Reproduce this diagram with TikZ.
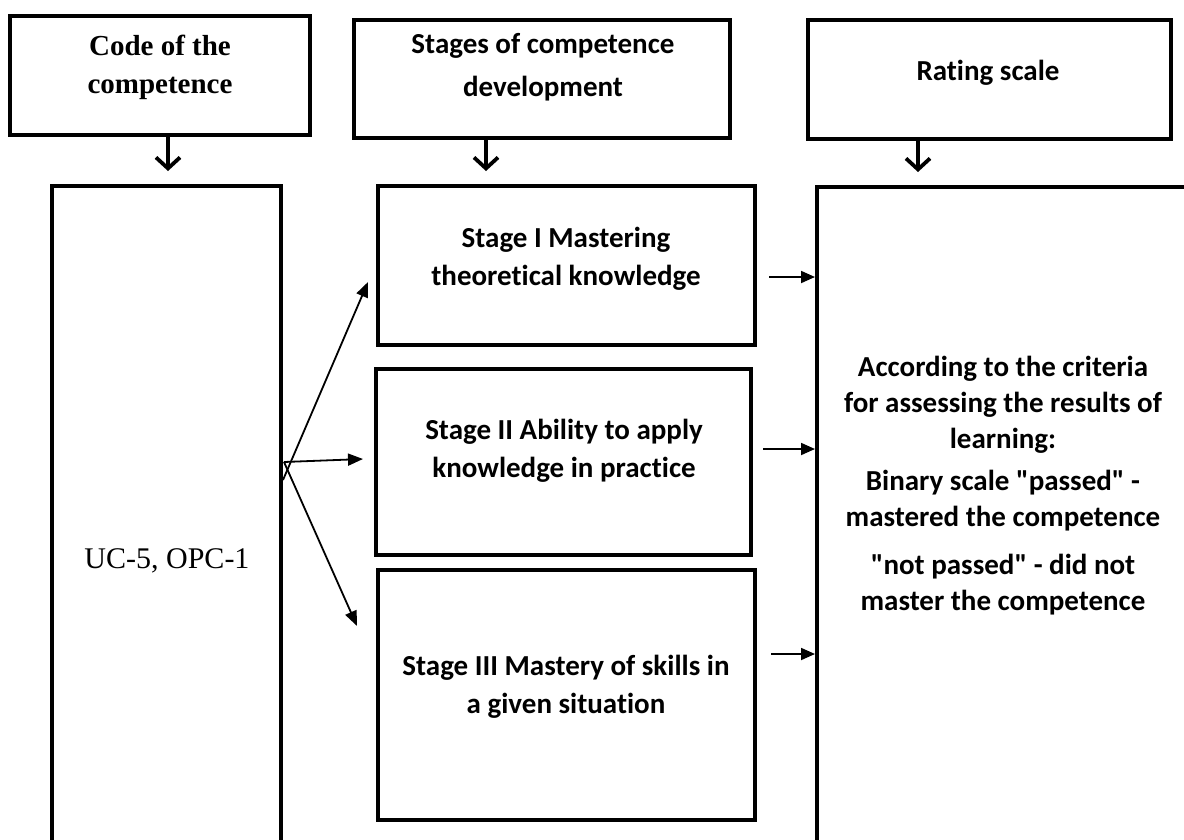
\documentclass[tikz,border=0pt]{standalone}
\usepackage{fontspec}
\setmainfont{Liberation Serif}
\newfontfamily\calib[RawFeature={-liga;-clig;-dlig;-calt}]{Carlito}
\usetikzlibrary{arrows.meta}
\begin{document}
\begin{tikzpicture}[x=1pt,y=-1pt,
  box/.style={draw, line width=4pt, rectangle, inner sep=0pt},
  hdrtext/.style={align=center, font=\calib\bfseries\fontsize{29}{43}\selectfont},
  stagetext/.style={align=center, font=\calib\bfseries\fontsize{29}{38}\selectfont},
  righttext/.style={align=center, font=\calib\bfseries\fontsize{29}{36}\selectfont},
  downarrow/.style={line width=3.8pt, -{Straight Barb[length=11pt,width=24pt]}},
  fanarrow/.style={line width=1.8pt, -{Triangle[length=15pt,width=12pt]}},
  sidearrow/.style={line width=1.8pt, -{Triangle[length=14pt,width=12pt]}}]
\clip (0,0) rectangle (1184,839);
\fill[white] (0,0) rectangle (1184,839);
% header boxes
\node[box, minimum width=300pt, minimum height=119pt] (code) at (160,75.5) {};
\node[box, minimum width=376pt, minimum height=118pt] (stages) at (542,79) {};
\node[box, minimum width=363pt, minimum height=119pt] (rating) at (989.5,79.5) {};
\node[align=center, font=\bfseries\fontsize{29}{38}\selectfont] (codet) at (160,67) {Code of the\\competence};
\node[hdrtext] (stagest) at (543,67) {Stages of competence\\development};
\node[hdrtext] (ratingt) at (988,73) {Rating scale};
% main boxes
\node[box, minimum width=229pt, minimum height=714pt] (left) at (166.5,543) {};
\node[box, minimum width=377pt, minimum height=159pt] (s1) at (566.5,265.5) {};
\node[box, minimum width=375pt, minimum height=186pt] (s2) at (563.5,462) {};
\node[box, minimum width=377pt, minimum height=250pt] (s3) at (566.5,695) {};
\node[box, minimum width=433pt, minimum height=713pt] (right) at (1033.5,543.5) {};
% texts
\node[font=\fontsize{30}{36}\selectfont] (uc) at (167,561) {UC-5, OPC-1};
\node[stagetext] (s1t) at (566,258.5) {Stage I Mastering\\theoretical knowledge};
\node[stagetext] (s2t) at (564,451) {Stage II Ability to apply\\knowledge in practice};
\node[stagetext] (s3t) at (566,687) {Stage III Mastery of skills in\\a given situation};
\node[righttext] (r1) at (1003,405) {According to the criteria\\for assessing the results of\\learning:};
\node[righttext] (r2) at (1003,501) {Binary scale "passed" -\\mastered the competence};
\node[righttext] (r3) at (1003,585) {"not passed" - did not\\master the competence};
% down arrows
\draw[downarrow] (code.south -| 168,0) -- ([yshift=13pt]left.north -| 168,0);
\draw[downarrow] (stages.south -| 486,0) -- ([yshift=13pt]s1.north -| 486,0);
\draw[downarrow] (rating.south -| 918,0) -- ([yshift=13pt]right.north -| 918,0);
% fan arrows
\coordinate (fo1) at (283,480);
\coordinate (fo2) at (284,462);
\draw[fanarrow] (fo1) -- (368,282);
\draw[fanarrow] (fo2) -- (363,459);
\draw[fanarrow] (fo2) -- (357,626);
% side arrows
\draw[sidearrow] ([xshift=12pt]s1.east |- 0,277) -- (right.west |- 0,277);
\draw[sidearrow] ([xshift=10pt]s2.east |- 0,449) -- (right.west |- 0,449);
\draw[sidearrow] ([xshift=14pt]s3.east |- 0,654) -- (right.west |- 0,654);
\end{tikzpicture}
\end{document}
